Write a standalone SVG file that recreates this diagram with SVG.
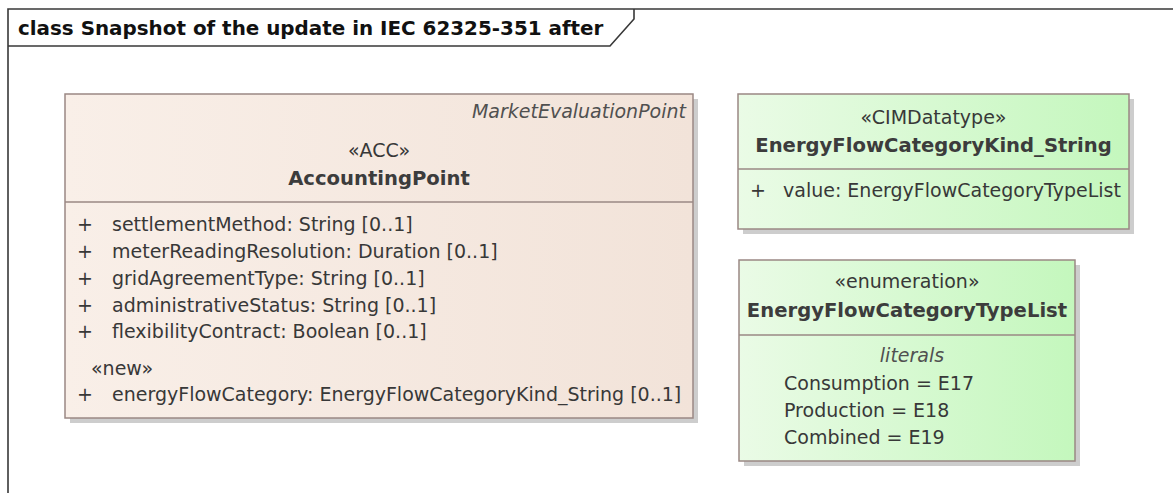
<svg xmlns="http://www.w3.org/2000/svg" width="1173" height="493" viewBox="0 0 1173 493">
<style>
.frame{fill:none;stroke:#383838;stroke-width:1.6}
.title{font-family:"DejaVu Sans",sans-serif;font-size:19.9px;font-weight:bold;fill:#111}
.box{stroke:#9a8884;stroke-width:1.5}
.shadow{fill:#cdcdcd}
.div{stroke:#9a8884;stroke-width:1.5}
.t{font-family:"DejaVu Sans",sans-serif;font-size:19px;fill:#383838}
.b{font-weight:bold;font-size:19.6px;fill:#3c3c3c}
.i{font-style:italic;fill:#505050}
.m{text-anchor:middle}
.e{text-anchor:end}
</style>
<defs>
<linearGradient id="gBeige" x1="0" y1="0" x2="1" y2="0">
<stop offset="0" stop-color="#f9efe8"/>
<stop offset="1" stop-color="#f2e3d9"/>
</linearGradient>
<linearGradient id="gGreen" x1="0" y1="0" x2="1" y2="0">
<stop offset="0" stop-color="#eafbe6"/>
<stop offset="1" stop-color="#c4f7bd"/>
</linearGradient>
</defs>
<rect width="1173" height="493" fill="#fff"/>
<g id="frame">
<path class="frame" d="M8,500 V9 H1180"/>
<path class="frame" d="M8,46 H610 L634,19 V9"/>
<text class="title" x="18" y="35">class Snapshot of the update in IEC 62325-351 after</text>
</g>
<g id="connectors"></g>
<g id="AccountingPoint">
<rect class="shadow" x="70" y="99" width="628" height="324"/>
<rect class="box" x="65" y="94" width="628" height="324" fill="url(#gBeige)"/>
<line class="div" x1="65" y1="202" x2="693" y2="202"/>
<text class="t i e" x="686" y="118">MarketEvaluationPoint</text>
<text class="t m" x="379" y="157">«ACC»</text>
<text class="t b m" x="379" y="185">AccountingPoint</text>
<text class="t" x="77" y="231">+</text><text class="t" x="112" y="231">settlementMethod: String [0..1]</text>
<text class="t" x="77" y="258">+</text><text class="t" x="112" y="258">meterReadingResolution: Duration [0..1]</text>
<text class="t" x="77" y="285">+</text><text class="t" x="112" y="285">gridAgreementType: String [0..1]</text>
<text class="t" x="77" y="312">+</text><text class="t" x="112" y="312">administrativeStatus: String [0..1]</text>
<text class="t" x="77" y="338">+</text><text class="t" x="112" y="338">flexibilityContract: Boolean [0..1]</text>
<text class="t" x="91" y="375">«new»</text>
<text class="t" x="77" y="401">+</text><text class="t" x="112" y="401">energyFlowCategory: EnergyFlowCategoryKind_String [0..1]</text>
</g>
<g id="EnergyFlowCategoryKind_String">
<rect class="shadow" x="743" y="99" width="391" height="135"/>
<rect class="box" x="738" y="94" width="391" height="135" fill="url(#gGreen)"/>
<line class="div" x1="738" y1="169" x2="1129" y2="169"/>
<text class="t m" x="933.5" y="124">«CIMDatatype»</text>
<text class="t b m" x="933.5" y="152">EnergyFlowCategoryKind_String</text>
<text class="t" x="750" y="197">+</text><text class="t" x="783" y="197">value: EnergyFlowCategoryTypeList</text>
</g>
<g id="EnergyFlowCategoryTypeList">
<rect class="shadow" x="744" y="265" width="336" height="201"/>
<rect class="box" x="739" y="260" width="336" height="201" fill="url(#gGreen)"/>
<line class="div" x1="739" y1="335" x2="1075" y2="335"/>
<text class="t m" x="907" y="288">«enumeration»</text>
<text class="t b m" x="907" y="317">EnergyFlowCategoryTypeList</text>
<text class="t i m" x="912" y="362">literals</text>
<text class="t" x="784" y="390">Consumption = E17</text>
<text class="t" x="784" y="417">Production = E18</text>
<text class="t" x="784" y="444">Combined = E19</text>
</g>
</svg>
